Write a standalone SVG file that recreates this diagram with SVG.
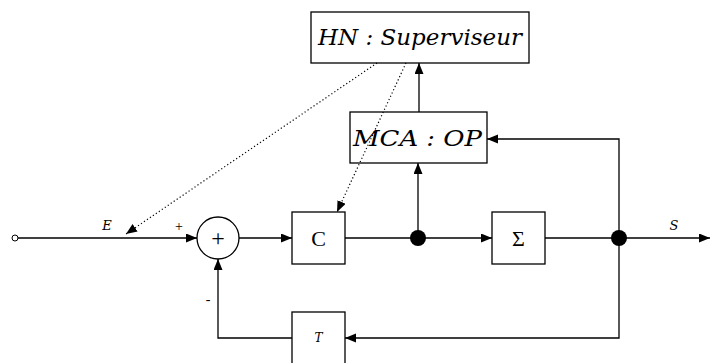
<svg xmlns="http://www.w3.org/2000/svg" width="710" height="363" viewBox="0 0 710 363">
<style>
.box{fill:none;stroke:#000;stroke-width:1.3}
.ln{fill:none;stroke:#000;stroke-width:1.3}
.dot{fill:none;stroke:#000;stroke-width:1.2;stroke-dasharray:1.2 2.4}
.it{font-family:"DejaVu Serif","Liberation Serif",serif;font-style:italic;fill:#000}
.rm{font-family:"Liberation Serif",serif;fill:#000}
</style>
<defs>
<marker id="ah" markerUnits="userSpaceOnUse" markerWidth="12" markerHeight="10" refX="11" refY="4.5" orient="auto">
<path d="M0,0 L11,4.5 L0,9 z" fill="#000"/>
</marker>
</defs>
<g id="connectors">
<line class="ln" x1="18" y1="238" x2="197" y2="238" marker-end="url(#ah)"/>
<line class="ln" x1="239" y1="238" x2="292" y2="238" marker-end="url(#ah)"/>
<line class="ln" x1="345" y1="238" x2="492" y2="238" marker-end="url(#ah)"/>
<line class="ln" x1="545" y1="238" x2="710" y2="238" marker-end="url(#ah)"/>
<line class="ln" x1="418" y1="238" x2="418" y2="163" marker-end="url(#ah)"/>
<line class="ln" x1="419" y1="112" x2="419" y2="63" marker-end="url(#ah)"/>
<polyline class="ln" points="619,238 619,139 487,139" marker-end="url(#ah)"/>
<polyline class="ln" points="619,238 619,338 345,338" marker-end="url(#ah)"/>
<polyline class="ln" points="292,338 218,338 218,259" marker-end="url(#ah)"/>
<line class="dot" x1="377" y1="63" x2="126" y2="234" marker-end="url(#ah)"/>
<line class="dot" x1="406" y1="63" x2="337" y2="212" marker-end="url(#ah)"/>
</g>
<g id="input"><circle cx="15" cy="238" r="3" fill="#fff" stroke="#000" stroke-width="1"/></g>
<g id="labels">
<text class="it" x="107" y="230" font-size="13" text-anchor="middle">E</text>
<text class="rm" x="179" y="231" font-size="14" text-anchor="middle">+</text>
<text class="rm" x="208" y="304" font-size="14" text-anchor="middle">-</text>
<text class="it" x="674" y="230" font-size="13" text-anchor="middle">S</text>
</g>
<g id="HN">
<rect class="box" x="311" y="12" width="218" height="51"/>
<text class="it" x="318" y="45" font-size="22" textLength="204" lengthAdjust="spacingAndGlyphs">HN : Superviseur</text>
</g>
<g id="MCA">
<rect class="box" x="350" y="112" width="137" height="51"/>
<text class="it" x="353" y="146" font-size="22" textLength="129" lengthAdjust="spacingAndGlyphs">MCA : OP</text>
</g>
<g id="sum">
<circle cx="218" cy="238" r="21" fill="#fff" stroke="#000" stroke-width="1.3"/>
<text class="rm" x="218" y="246" font-size="24" text-anchor="middle" fill="#444">+</text>
</g>
<g id="C">
<rect class="box" x="292" y="212" width="53" height="52"/>
<text class="rm" x="318.5" y="246" font-size="22" text-anchor="middle">C</text>
</g>
<g id="Sigma">
<rect class="box" x="492" y="212" width="53" height="52"/>
<text class="rm" x="518.5" y="246" font-size="22" text-anchor="middle">Σ</text>
</g>
<g id="junction1"><circle cx="418" cy="238" r="8" fill="#000"/></g>
<g id="junction2"><circle cx="619" cy="238" r="8" fill="#000"/></g>
<g id="T">
<rect class="box" x="292" y="312" width="53" height="52"/>
<text class="it" x="318.5" y="342" font-size="12" text-anchor="middle">T</text>
</g>
</svg>
